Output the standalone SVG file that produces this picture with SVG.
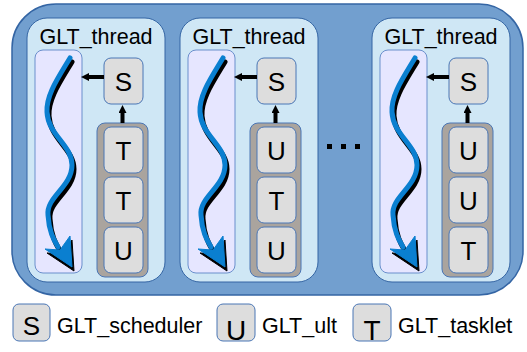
<svg xmlns="http://www.w3.org/2000/svg" xmlns:xlink="http://www.w3.org/1999/xlink" width="527" height="352" viewBox="0 0 527 352">
<style>
.outer{fill:#729fcf;stroke:#3465a4;stroke-width:1.5}
.panel{fill:#cfe7f5;stroke:#3465a4;stroke-width:1}
.lane{fill:#e6e6ff;stroke:#6a8fcc;stroke-width:1}
.stack{fill:#aaa49e;stroke:#4a76b5;stroke-width:1}
.box{fill:#dddddd;stroke:#4a76b5;stroke-width:1}
.title{font-family:"Liberation Sans",Arial,sans-serif;font-size:21.5px;fill:#000}
.letter{font-family:"Liberation Sans",Arial,sans-serif;font-size:26px;fill:#000;text-anchor:middle}
.big{font-size:28px}
.lbl{font-family:"Liberation Sans",Arial,sans-serif;font-size:21.5px;fill:#000}
.conn{stroke:#000;stroke-width:4;fill:none}
.wave{fill:none;stroke-width:5;stroke-linecap:round}
</style>
<defs>
<marker id="ah" viewBox="0 0 8 8" markerWidth="8" markerHeight="8" markerUnits="userSpaceOnUse" refX="0" refY="4" orient="auto">
<path d="M0,0 L8,4 L0,8 Z" fill="#000"/>
</marker>
<g id="wavyShape">
<path class="wave" d="M70,58 C58,78 46,95 47,112 C48,135 72,145 72,165 C72,187 46,197 48,215 C49,232 54,240 58,247"/>
<path d="M70,236 L72,267 L45,249 L60,250 Z"/>
</g>
<g id="wavy">
<use xlink:href="#wavyShape" transform="translate(2,4)" stroke="#000" fill="#000"/>
<use xlink:href="#wavyShape" stroke="#0a7fd0" fill="#0a7fd0"/>
</g>
</defs>
<g id="outer">
<rect class="outer" x="12" y="4" width="511" height="291" rx="44" ry="44"/>
</g>
<g id="thread1">
<rect class="panel" x="27" y="18" width="138" height="264" rx="20" ry="20"/>
<text class="title" x="96" y="44" text-anchor="middle">GLT_thread</text>
<g id="lane1"><rect class="lane" x="35" y="50" width="47" height="223" rx="8" ry="8"/><use xlink:href="#wavy"/></g>
<g id="sched1"><rect class="box" x="104" y="58" width="39" height="46" rx="7"/><text class="letter" x="123.5" y="91">S</text></g>
<g id="stack1"><rect class="stack" x="97" y="123" width="51" height="154" rx="8"/>
<rect class="box" x="104" y="127" width="39" height="46" rx="7"/><text class="letter" x="123.5" y="160">T</text>
<rect class="box" x="104" y="177" width="39" height="46" rx="7"/><text class="letter" x="123.5" y="210">T</text>
<rect class="box" x="104" y="227" width="39" height="46" rx="7"/><text class="letter" x="123.5" y="260">U</text></g>
</g>
<g id="thread2" transform="translate(153,0)">
<rect class="panel" x="27" y="18" width="138" height="264" rx="20" ry="20"/>
<text class="title" x="96" y="44" text-anchor="middle">GLT_thread</text>
<g id="lane2"><rect class="lane" x="35" y="50" width="47" height="223" rx="8" ry="8"/><use xlink:href="#wavy"/></g>
<g id="sched2"><rect class="box" x="104" y="58" width="39" height="46" rx="7"/><text class="letter" x="123.5" y="91">S</text></g>
<g id="stack2"><rect class="stack" x="97" y="123" width="51" height="154" rx="8"/>
<rect class="box" x="104" y="127" width="39" height="46" rx="7"/><text class="letter" x="123.5" y="160">U</text>
<rect class="box" x="104" y="177" width="39" height="46" rx="7"/><text class="letter" x="123.5" y="210">T</text>
<rect class="box" x="104" y="227" width="39" height="46" rx="7"/><text class="letter" x="123.5" y="260">U</text></g>
</g>
<g id="ellipsis">
<rect x="327" y="144" width="5" height="5"/>
<rect x="341" y="144" width="5" height="5"/>
<rect x="355" y="144" width="5" height="5"/>
</g>
<g id="thread3" transform="translate(345,0)">
<rect class="panel" x="27" y="18" width="138" height="264" rx="20" ry="20"/>
<text class="title" x="96" y="44" text-anchor="middle">GLT_thread</text>
<g id="lane3"><rect class="lane" x="35" y="50" width="47" height="223" rx="8" ry="8"/><use xlink:href="#wavy"/></g>
<g id="sched3"><rect class="box" x="104" y="58" width="39" height="46" rx="7"/><text class="letter" x="123.5" y="91">S</text></g>
<g id="stack3"><rect class="stack" x="97" y="123" width="51" height="154" rx="8"/>
<rect class="box" x="104" y="127" width="39" height="46" rx="7"/><text class="letter" x="123.5" y="160">U</text>
<rect class="box" x="104" y="177" width="39" height="46" rx="7"/><text class="letter" x="123.5" y="210">U</text>
<rect class="box" x="104" y="227" width="39" height="46" rx="7"/><text class="letter" x="123.5" y="260">T</text></g>
</g>
<g id="connectors">
<line class="conn" x1="104" y1="77" x2="89" y2="77" marker-end="url(#ah)"/>
<line class="conn" x1="122.5" y1="123" x2="122.5" y2="113" marker-end="url(#ah)"/>
<line class="conn" x1="257" y1="77" x2="242" y2="77" marker-end="url(#ah)"/>
<line class="conn" x1="275.5" y1="123" x2="275.5" y2="113" marker-end="url(#ah)"/>
<line class="conn" x1="449" y1="77" x2="434" y2="77" marker-end="url(#ah)"/>
<line class="conn" x1="467.5" y1="123" x2="467.5" y2="113" marker-end="url(#ah)"/>
</g>
<g id="legend">
<g id="legS"><rect class="box" x="13" y="304" width="37" height="37" rx="6"/><text class="letter" x="31.5" y="335">S</text><text class="lbl" x="57" y="333">GLT_scheduler</text></g>
<g id="legU"><rect class="box" x="217" y="304" width="38" height="37" rx="6"/><text class="letter big" x="236" y="340">U</text><text class="lbl" x="262" y="333">GLT_ult</text></g>
<g id="legT"><rect class="box" x="353" y="304" width="38" height="37" rx="6"/><text class="letter big" x="372" y="340">T</text><text class="lbl" x="398" y="333">GLT_tasklet</text></g>
</g>
</svg>
